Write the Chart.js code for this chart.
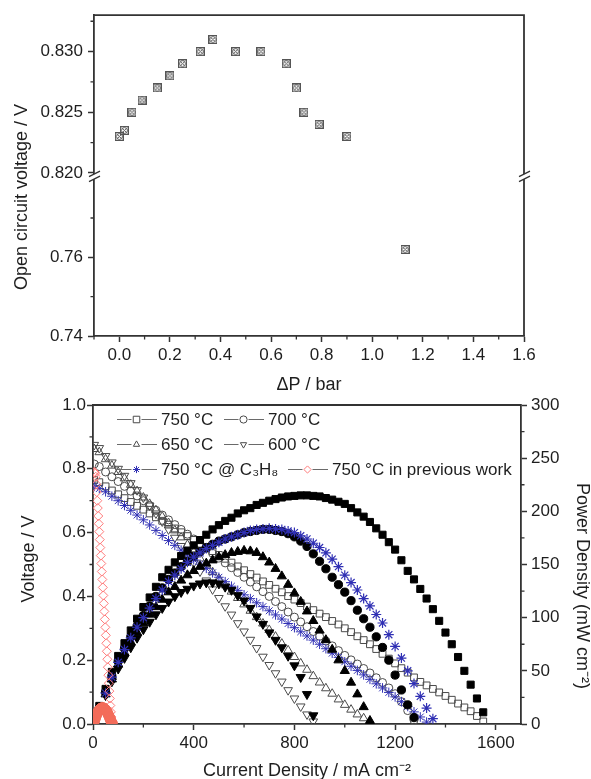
<!DOCTYPE html>
<html><head><meta charset="utf-8">
<script src="https://cdn.jsdelivr.net/npm/chart.js@4.4.1/dist/chart.umd.min.js"></script>
<style>
html,body{margin:0;padding:0;background:#fff;overflow:hidden;width:591px;height:779px;}
canvas{position:absolute;left:0;}
#topChart{top:0;}
#botChart{top:390px;}
</style></head><body>
<canvas id="topChart" width="591" height="400"></canvas>
<canvas id="botChart" width="591" height="400"></canvas>
<script>
// ===== Top chart data (OCV vs pressure difference) =====
const pressureDrop = [0.00,0.02,0.05,0.09,0.15,0.20,0.25,0.32,0.37,0.46,0.56,0.66,0.70,0.73,0.79,0.90,1.13];
const openCircuitVoltage = [0.8230,0.8235,0.8250,0.8260,0.8270,0.8280,0.8290,0.8300,0.8310,0.8300,0.8300,0.8290,0.8270,0.8250,0.8240,0.8230,0.7620];
const topXTicks = [0,0.2,0.4,0.6,0.8,1.0,1.2,1.4,1.6];
const topXMinor = [-0.1,0.1,0.3,0.5,0.7,0.9,1.1,1.3,1.5];
const upperYTicks = [0.820,0.825,0.830];
const upperYMinor = [0.8225,0.8275,0.8325];
const lowerYTicks = [0.74,0.76];
const lowerYMinor = [0.75,0.77];

// ===== Bottom chart data (I-V and I-P curves) =====
const currentGrid = [5,25,50,75,100,125,150,175,200,225,250,275,300,325,350,375,400,425,450,475,500,525,550,575,600,625,650,675,700,725,750,775,800,825,850,875,900,925,950,975,1000,1025,1050,1075,1100,1125,1150,1175,1200,1225,1250,1275,1300,1325,1350,1375,1400,1425,1450,1475,1500,1525,1550];
const voltage750 = [0.765,0.758,0.745,0.732,0.72,0.708,0.696,0.684,0.672,0.66,0.648,0.637,0.625,0.613,0.601,0.589,0.577,0.565,0.553,0.542,0.53,0.518,0.506,0.494,0.482,0.47,0.459,0.447,0.436,0.424,0.413,0.401,0.39,0.379,0.368,0.357,0.346,0.335,0.323,0.312,0.30,0.288,0.275,0.263,0.25,0.235,0.22,0.205,0.19,0.175,0.161,0.146,0.132,0.121,0.11,0.099,0.088,0.076,0.064,0.052,0.04,0.025,0.008];
const voltage700 = [0.815,0.807,0.79,0.775,0.76,0.745,0.73,0.715,0.70,0.685,0.67,0.655,0.64,0.625,0.61,0.595,0.58,0.565,0.55,0.535,0.52,0.505,0.49,0.475,0.46,0.445,0.43,0.415,0.40,0.384,0.368,0.351,0.335,0.32,0.305,0.29,0.275,0.26,0.245,0.23,0.215,0.201,0.188,0.174,0.16,0.145,0.13,0.113,0.095,0.07,0.042,0.012];
const voltage650 = [0.862,0.852,0.83,0.81,0.79,0.77,0.75,0.73,0.71,0.69,0.67,0.65,0.63,0.607,0.585,0.562,0.54,0.519,0.497,0.476,0.455,0.435,0.415,0.395,0.375,0.355,0.335,0.315,0.295,0.274,0.252,0.231,0.21,0.19,0.17,0.15,0.13,0.112,0.095,0.077,0.06,0.045,0.03,0.018,0.008];
const voltage600 = [0.875,0.865,0.84,0.82,0.80,0.778,0.755,0.733,0.71,0.685,0.66,0.635,0.61,0.584,0.558,0.532,0.505,0.478,0.45,0.422,0.395,0.369,0.343,0.316,0.29,0.264,0.238,0.211,0.185,0.159,0.133,0.106,0.08,0.055,0.03,0.008];
const voltageC3H8 = [0.745,0.738,0.728,0.714,0.70,0.685,0.67,0.655,0.64,0.624,0.607,0.591,0.575,0.56,0.545,0.53,0.515,0.501,0.488,0.474,0.46,0.446,0.432,0.419,0.405,0.393,0.38,0.368,0.355,0.342,0.329,0.315,0.302,0.289,0.276,0.263,0.25,0.236,0.222,0.209,0.195,0.181,0.168,0.154,0.14,0.126,0.113,0.099,0.085,0.07,0.055,0.038,0.022,0.006];
const power750 = [4,17,33,49,64,76,88,99,110,119,129,138,145,152,158,163,168,173,178,183,187,191,194,198,201,203,206,208,210,211.5,213,214,214.5,215,215,214.5,214,212.5,211,209,207,203,199,195,190,184,178,171,164,154,144,136,127,118,108,97,86,75,63,50,37,24,11];
const power700 = [4,15,30,45,59,71,82,92,102,111,120,128,136,142,148,153,158,162,166,169,172,174,176,178,180,181,182,183,183,182,181,179,176,172,167,160,153,146,138,131,124,116,107,99,91,82,72,60,46,32,18,6];
const power650 = [4,14,28,42,56,67,77,86,95,103,110,117,124,129,135,140,144,148,151,154,157,159,161,162,163,162.5,161,157,152,146,139,131,123,115,106,97,88,79,70,60,50,39,28,16,3];
const power600 = [4,13,27,40,52,62,72,81,89,96,103,109,115,120,124,127,130,132,133,133,132,129,126,121,116,109,101,94,86,79,72,64,55,44,28,8];
const powerC3H8 = [4,14,29,44,58,70,81,91,100,109,118,126,134,140,146,152,157,161,165,168,171,174,176,178,180,182,183,183.5,184,183.5,183,181.5,180,177,174,170,166,161,155,148,140,133,126,118,111,103,95,84,73,62,50,38,26,15,5];
const prevCurrent = [5,7,9,11,13,15,17,19,21,23,25,27,29,31,33,35,37,39,41,43,45,47,49,51,53,55,57,59,61,63,65,67,69,71,73,75,77];
const prevVoltage = [0.79,0.789,0.785,0.775,0.752,0.727,0.70,0.677,0.652,0.628,0.603,0.578,0.553,0.528,0.503,0.478,0.453,0.428,0.403,0.378,0.353,0.328,0.303,0.278,0.253,0.228,0.203,0.178,0.153,0.128,0.103,0.08,0.058,0.038,0.022,0.01,0.003];
const prevPower = [2.5,3.8,5.2,6.5,7.9,9.2,10.2,11.1,11.9,12.6,13.2,13.7,14.2,14.6,14.9,15.1,15.2,15.2,15.1,14.9,14.6,14.2,13.7,13.1,12.4,11.6,10.7,9.7,8.7,7.6,6.5,5.3,4.1,3,2,1.2,0.5];
const botXTicks = [0,400,800,1200,1600];
const botXMinor = [200,600,1000,1400];
const voltTicks = [0,0.2,0.4,0.6,0.8,1.0];
const voltMinor = [0.1,0.3,0.5,0.7,0.9];
const powerTicks = [0,50,100,150,200,250,300];
const powerMinor = [25,75,125,175,225,275];
const legendLabels = ['750 \u00B0C','700 \u00B0C','650 \u00B0C','600 \u00B0C','750 \u00B0C @ C\u2083H\u2088','750 \u00B0C in previous work'];

// ===== styling helpers =====
const FONT = "'Liberation Sans', Arial, Helvetica, sans-serif";
const INK = '#1e1e1e';
const AXIS = '#333333';
Chart.defaults.font.family = FONT;
Chart.defaults.color = INK;

function ocvMarker() {
  const c = document.createElement('canvas'); c.width = 9; c.height = 9;
  const g = c.getContext('2d');
  g.strokeStyle = '#555'; g.lineWidth = 1;
  g.strokeRect(0.5, 0.5, 8, 8);
  g.beginPath(); g.arc(4.5, 4.5, 3, 0, Math.PI * 2); g.stroke();
  g.beginPath(); g.moveTo(1.5, 1.5); g.lineTo(7.5, 7.5); g.moveTo(7.5, 1.5); g.lineTo(1.5, 7.5); g.stroke();
  return c;
}

function axisStyle(size, pad) {
  return {
    grid: { drawOnChartArea: false, drawTicks: true, tickLength: 6, tickWidth: 1.5, tickColor: AXIS },
    border: { display: true, color: AXIS, width: 1.8 },
    ticks: { color: INK, font: { family: FONT, size: size }, padding: pad }
  };
}
function fixedTicks(list) { return (s) => { s.ticks = list.map(v => ({ value: v })); }; }

function minorTickPlugin(spec) {
  return {
    id: 'minorTicks',
    afterDraw(chart) {
      const ctx = chart.ctx; ctx.save(); ctx.strokeStyle = AXIS; ctx.lineWidth = 1.3;
      for (const id in spec) {
        const s = chart.scales[id]; ctx.beginPath();
        for (const v of spec[id]) {
          const p = s.getPixelForValue(v);
          if (s.isHorizontal()) { ctx.moveTo(p, s.top); ctx.lineTo(p, s.top + 3.5); }
          else if (s.position === 'left') { ctx.moveTo(s.right, p); ctx.lineTo(s.right - 3.5, p); }
          else { ctx.moveTo(s.left, p); ctx.lineTo(s.left + 3.5, p); }
        }
        ctx.stroke();
      }
      ctx.restore();
    }
  };
}

function drawRotatedText(ctx, text, x, y, angle, size) {
  ctx.save(); ctx.translate(x, y); ctx.rotate(angle);
  ctx.font = size + 'px ' + FONT; ctx.fillStyle = INK;
  ctx.textAlign = 'center'; ctx.textBaseline = 'middle';
  ctx.fillText(text, 0, 0); ctx.restore();
}

// ===== top chart =====
const upperPts = [], lowerPts = [];
pressureDrop.forEach((p, i) => {
  const pt = { x: p, y: openCircuitVoltage[i] };
  (openCircuitVoltage[i] >= 0.8 ? upperPts : lowerPts).push(pt);
});
const marker = ocvMarker();

const topFrame = {
  id: 'topFrame',
  afterDraw(chart) {
    const { ctx, chartArea: a } = chart;
    const yb = chart.scales.yTop.bottom;
    ctx.save();
    ctx.strokeStyle = AXIS; ctx.lineWidth = 1.8;
    ctx.beginPath(); ctx.moveTo(a.left, a.top); ctx.lineTo(a.right, a.top); ctx.lineTo(a.right, a.bottom); ctx.stroke();
    for (const x of [a.left, a.right]) {
      ctx.fillStyle = '#fff'; ctx.fillRect(x - 2, yb - 3, 4, 5);
      ctx.lineWidth = 1.3; ctx.beginPath();
      ctx.moveTo(x - 5, yb - 0.5); ctx.lineTo(x + 6, yb - 6);
      ctx.moveTo(x - 5, yb + 4.5); ctx.lineTo(x + 6, yb - 1);
      ctx.stroke();
    }
    drawRotatedText(ctx, 'Open circuit voltage / V', 22, 197, -Math.PI / 2, 18);
    ctx.restore();
  }
};

const topX = axisStyle(17, 3);
const topYU = axisStyle(17, 5);
const topYL = axisStyle(17, 5);
new Chart(document.getElementById('topChart'), {
  type: 'scatter',
  data: { datasets: [
    { data: upperPts, yAxisID: 'yTop', pointStyle: marker, pointRadius: 4.5 },
    { data: lowerPts, yAxisID: 'yBot', pointStyle: marker, pointRadius: 4.5 }
  ] },
  options: {
    responsive: false, animation: false, devicePixelRatio: 1, events: [],
    layout: { padding: { top: 15, right: 67, left: 0, bottom: 0 } },
    plugins: { legend: { display: false }, tooltip: { enabled: false } },
    scales: {
      x: Object.assign(topX, {
        type: 'linear', min: -0.1, max: 1.6,
        afterBuildTicks: fixedTicks(topXTicks),
        afterFit: s => { s.height = 64; },
        ticks: Object.assign(topX.ticks, { callback: v => v.toFixed(1), maxRotation: 0, autoSkip: false }),
        title: { display: true, text: '\u0394P / bar', font: { family: FONT, size: 18 }, color: INK, padding: { top: 0, bottom: 4 } }
      }),
      yBot: Object.assign(topYL, {
        type: 'linear', position: 'left', stack: 'ocv', stackWeight: 159, min: 0.74, max: 0.7804,
        afterBuildTicks: fixedTicks(lowerYTicks),
        afterFit: s => { s.width = 94; },
        ticks: Object.assign(topYL.ticks, { callback: v => v.toFixed(2), autoSkip: false })
      }),
      yTop: Object.assign(topYU, {
        type: 'linear', position: 'left', stack: 'ocv', stackWeight: 162, min: 0.81965, max: 0.833,
        afterBuildTicks: fixedTicks(upperYTicks),
        afterFit: s => { s.width = 94; },
        ticks: Object.assign(topYU.ticks, { callback: v => v.toFixed(3), autoSkip: false })
      })
    }
  },
  plugins: [topFrame, minorTickPlugin({ x: topXMinor, yTop: upperYMinor, yBot: lowerYMinor })]
});

// ===== bottom chart =====
function series(xs, vals, axis, style) {
  return Object.assign({ data: vals.map((v, i) => ({ x: xs[i], y: v })), yAxisID: axis, pointBorderWidth: 1 }, style);
}
const OPEN = 'rgba(255,255,255,0)';
const GREY = '#4a4a4a';
const BLUE = '#3030b4';
const datasets = [
  series(currentGrid, voltage750, 'yV', { pointStyle: 'rect', pointRadius: 4.8, borderColor: GREY, backgroundColor: OPEN, order: 10 }),
  series(currentGrid, voltage700, 'yV', { pointStyle: 'circle', pointRadius: 4, borderColor: GREY, backgroundColor: OPEN, order: 10 }),
  series(currentGrid, voltage650, 'yV', { pointStyle: 'triangle', pointRadius: 5, borderColor: GREY, backgroundColor: OPEN, order: 10 }),
  series(currentGrid, voltage600, 'yV', { pointStyle: 'triangle', pointRotation: 180, pointRadius: 5, borderColor: GREY, backgroundColor: OPEN, order: 10 }),
  series(currentGrid, voltageC3H8, 'yV', { pointStyle: 'star', pointRadius: 4.8, borderColor: BLUE, backgroundColor: OPEN, order: 8 }),
  series(currentGrid, power750, 'yP', { pointStyle: 'rect', pointRadius: 5, borderColor: '#000', backgroundColor: '#000', order: 6 }),
  series(currentGrid, power700, 'yP', { pointStyle: 'circle', pointRadius: 4.1, borderColor: '#000', backgroundColor: '#000', order: 6 }),
  series(currentGrid, power650, 'yP', { pointStyle: 'triangle', pointRadius: 5.3, borderColor: '#000', backgroundColor: '#000', order: 6 }),
  series(currentGrid, power600, 'yP', { pointStyle: 'triangle', pointRotation: 180, pointRadius: 5.3, borderColor: '#000', backgroundColor: '#000', order: 6 }),
  series(currentGrid, powerC3H8, 'yP', { pointStyle: 'star', pointRadius: 5, borderColor: BLUE, backgroundColor: OPEN, pointBorderWidth: 1.2, order: 4 }),
  series(prevCurrent, prevVoltage, 'yV', { pointStyle: 'rectRot', pointRadius: 4.5, borderColor: '#ff7b7b', backgroundColor: OPEN, order: 2 }),
  series(prevCurrent, prevPower, 'yP', { pointStyle: 'circle', pointRadius: 5, borderColor: '#f36c5a', backgroundColor: '#f36c5a', order: 1 })
];

function glyph(ctx, kind, x, y, r, color) {
  ctx.save(); ctx.strokeStyle = color; ctx.lineWidth = 1; ctx.beginPath();
  if (kind === 'rect') { const h = r * 0.707; ctx.rect(x - h, y - h, 2 * h, 2 * h); }
  else if (kind === 'circle') { ctx.arc(x, y, r, 0, Math.PI * 2); }
  else if (kind === 'tri' || kind === 'triDown') {
    const s = kind === 'tri' ? 1 : -1;
    ctx.moveTo(x, y - s * r); ctx.lineTo(x + r * 0.866, y + s * r * 0.5); ctx.lineTo(x - r * 0.866, y + s * r * 0.5); ctx.closePath();
  } else if (kind === 'star') {
    const d = r * 0.707;
    ctx.moveTo(x - r, y); ctx.lineTo(x + r, y); ctx.moveTo(x, y - r); ctx.lineTo(x, y + r);
    ctx.moveTo(x - d, y - d); ctx.lineTo(x + d, y + d); ctx.moveTo(x + d, y - d); ctx.lineTo(x - d, y + d);
  } else if (kind === 'diamond') {
    ctx.moveTo(x, y - r); ctx.lineTo(x + r, y); ctx.lineTo(x, y + r); ctx.lineTo(x - r, y); ctx.closePath();
  }
  ctx.stroke(); ctx.restore();
}

const legendPlugin = {
  id: 'customLegend',
  afterDraw(chart) {
    const ctx = chart.ctx;
    const rows = [29.5, 54.5, 79.5];
    const entries = [
      { kind: 'rect', color: GREY, x0: 117, row: 0 },
      { kind: 'circle', color: GREY, x0: 224, row: 0 },
      { kind: 'tri', color: GREY, x0: 117, row: 1 },
      { kind: 'triDown', color: GREY, x0: 224, row: 1 },
      { kind: 'star', color: BLUE, x0: 117, row: 2 },
      { kind: 'diamond', color: '#ff7b7b', x0: 288, row: 2 }
    ];
    ctx.save();
    ctx.font = '17px ' + FONT; ctx.fillStyle = INK; ctx.textBaseline = 'middle'; ctx.textAlign = 'left';
    entries.forEach((e, i) => {
      const y = rows[e.row]; const mx = e.x0 + 19.5;
      ctx.strokeStyle = '#6a6a6a'; ctx.lineWidth = 1.2; ctx.beginPath();
      ctx.moveTo(e.x0, y); ctx.lineTo(mx - 5, y); ctx.moveTo(mx + 5, y); ctx.lineTo(e.x0 + 40, y); ctx.stroke();
      glyph(ctx, e.kind, mx, y, e.kind === 'rect' ? 4.6 : 3.6, e.color);
      ctx.fillText(legendLabels[i], e.x0 + 44, y + 1);
    });
    ctx.restore();
  }
};

const botFrame = {
  id: 'botFrame',
  afterDraw(chart) {
    const { ctx, chartArea: a } = chart;
    ctx.save(); ctx.strokeStyle = AXIS; ctx.lineWidth = 1.8;
    ctx.beginPath(); ctx.moveTo(a.left, a.top); ctx.lineTo(a.right, a.top); ctx.stroke();
    drawRotatedText(ctx, 'Voltage / V', 29, 169, -Math.PI / 2, 18);
    drawRotatedText(ctx, 'Power Density (mW cm\u207B\u00B2)', 582, 196, Math.PI / 2, 18);
    ctx.restore();
  }
};

const bX = axisStyle(17, 3), bV = axisStyle(17, 1), bP = axisStyle(17, 4);
new Chart(document.getElementById('botChart'), {
  type: 'scatter',
  data: { datasets: datasets },
  options: {
    responsive: false, animation: false, devicePixelRatio: 1, events: [],
    layout: { padding: { top: 15, right: 0, left: 0, bottom: 0 } },
    plugins: { legend: { display: false }, tooltip: { enabled: false } },
    scales: {
      x: Object.assign(bX, {
        type: 'linear', min: 0, max: 1700,
        afterBuildTicks: fixedTicks(botXTicks),
        afterFit: s => { s.height = 66; },
        ticks: Object.assign(bX.ticks, { callback: v => String(v), maxRotation: 0, autoSkip: false }),
        title: { display: true, text: 'Current Density / mA cm\u207B\u00B2', font: { family: FONT, size: 18 }, color: INK, padding: { top: 0, bottom: 8 } }
      }),
      yV: Object.assign(bV, {
        type: 'linear', position: 'left', min: 0, max: 1.0,
        afterBuildTicks: fixedTicks(voltTicks),
        afterFit: s => { s.width = 93; },
        ticks: Object.assign(bV.ticks, { callback: v => v.toFixed(1), autoSkip: false })
      }),
      yP: Object.assign(bP, {
        type: 'linear', position: 'right', min: 0, max: 300,
        afterBuildTicks: fixedTicks(powerTicks),
        afterFit: s => { s.width = 70; },
        ticks: Object.assign(bP.ticks, { callback: v => String(v), autoSkip: false })
      })
    }
  },
  plugins: [botFrame, legendPlugin, minorTickPlugin({ x: botXMinor, yV: voltMinor, yP: powerMinor })]
});
</script>
</body></html>
